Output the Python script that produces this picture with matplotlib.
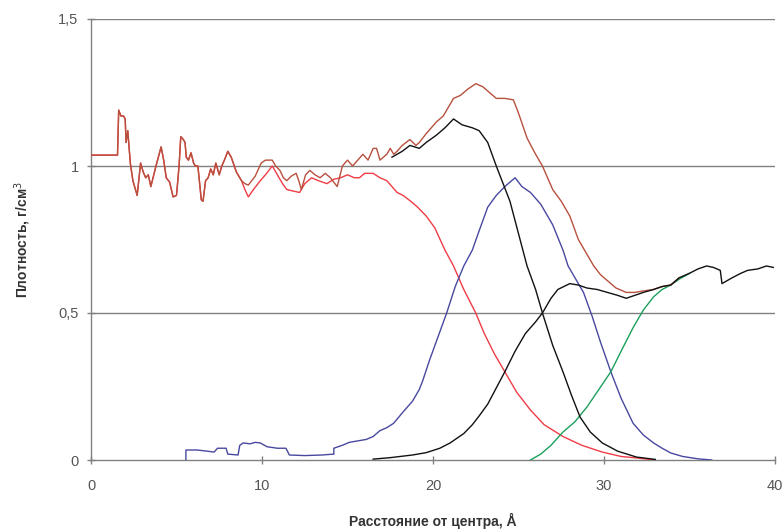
import matplotlib
matplotlib.use("Agg")
import matplotlib.pyplot as plt

plt.rcParams['font.family'] = ['Liberation Sans', 'DejaVu Sans']

# common early part of total (brown) and red curves
common_x = [0, 1.55, 1.62, 1.75, 1.9, 2.0, 2.05, 2.15, 2.3, 2.45, 2.7, 2.9, 3.05, 3.2, 3.35, 3.5, 3.8,
            4.1, 4.25, 4.4, 4.6, 4.8, 5.0, 5.15, 5.25, 5.4, 5.5, 5.57, 5.7, 5.85, 6.0, 6.1, 6.25,
            6.45, 6.55, 6.7, 6.85, 7.0, 7.15, 7.3, 7.5, 7.65, 7.8, 8.0, 8.2, 8.5, 8.8]
common_y = [1.037, 1.037, 1.19, 1.17, 1.17, 1.16, 1.08, 1.12, 1.01, 0.95, 0.90, 1.01, 0.98, 0.96, 0.97, 0.93, 1.0,
            1.065, 1.02, 0.96, 0.945, 0.895, 0.90, 1.0, 1.10, 1.09, 1.08, 1.03, 1.02, 1.045, 1.01, 1.0, 1.0,
            0.885, 0.88, 0.95, 0.96, 0.99, 0.97, 1.01, 0.97, 1.0, 1.02, 1.05, 1.03, 0.98, 0.95]

total_x = common_x + [9.0, 9.2, 9.4, 9.6, 9.95, 10.2, 10.6, 10.8, 11.05, 11.25, 11.45, 11.7, 12.0, 12.15,
                      12.3, 12.55, 12.8, 13.1, 13.4, 13.7, 14.0, 14.2, 14.4, 14.7, 15.0, 15.3, 15.6, 15.9,
                      16.2, 16.5, 16.7, 16.9, 17.1, 17.3, 17.5, 17.7, 17.9, 18.2, 18.65, 19.0, 19.2, 19.6,
                      20.2, 20.6, 21.0, 21.2, 21.6, 22.0, 22.5, 22.9, 23.3, 23.7, 24.2, 24.7, 25.0, 25.5,
                      26.0, 26.4, 27.0, 27.5, 28.0, 28.5, 29.0, 29.4, 29.8, 30.2, 30.7, 31.3, 31.8, 32.3,
                      32.9, 33.4, 33.9, 34.4]
total_y = common_y + [0.94, 0.935, 0.95, 0.965, 1.01, 1.02, 1.02, 1.0, 0.985, 0.96, 0.95, 0.965, 0.975, 0.95,
                      0.92, 0.97, 0.985, 0.97, 0.96, 0.975, 0.96, 0.945, 0.93, 1.0, 1.02, 1.0, 1.02, 1.04,
                      1.02, 1.06, 1.06, 1.02, 1.03, 1.04, 1.06, 1.04, 1.05, 1.07, 1.09, 1.07, 1.08, 1.11,
                      1.15, 1.17, 1.21, 1.23, 1.24, 1.26, 1.28, 1.27, 1.25, 1.23, 1.23, 1.225, 1.18, 1.095,
                      1.04, 1.0, 0.92, 0.88, 0.83, 0.75, 0.70, 0.66, 0.63, 0.61, 0.585, 0.57, 0.57, 0.575,
                      0.58, 0.59, 0.595, 0.62]

red_x = common_x + [9.0, 9.2, 9.5, 9.9, 10.2, 10.6, 10.9, 11.2, 11.45, 11.8, 12.2, 12.5, 12.9, 13.3, 13.8,
                    14.2, 14.6, 15.0, 15.4, 15.7, 16.0, 16.5, 16.9, 17.3, 17.6, 17.9, 18.25, 18.7, 19.1,
                    19.6, 20.1, 20.7, 21.2, 21.8, 22.5, 23.0, 23.6, 24.2, 24.9, 25.7, 26.5, 27.6, 28.7,
                    29.9, 31.0, 31.9, 33.0]
red_y = common_y + [0.92, 0.895, 0.92, 0.95, 0.97, 1.0, 0.97, 0.94, 0.92, 0.915, 0.91, 0.94, 0.96, 0.95, 0.94,
                    0.955, 0.96, 0.97, 0.96, 0.96, 0.975, 0.975, 0.96, 0.95, 0.93, 0.91, 0.90, 0.88, 0.86,
                    0.83, 0.79, 0.714, 0.66, 0.58, 0.50, 0.43, 0.36, 0.30, 0.23, 0.17, 0.12, 0.08, 0.05,
                    0.027, 0.012, 0.007, 0.0]

black1_x = [17.6, 17.9, 18.2, 18.65, 19.2, 19.6, 20.2, 20.7, 21.2, 21.7, 22.3, 22.7, 23.2, 23.7, 24.1, 24.5,
            25.0, 25.5, 26.0, 26.4, 27.0, 27.6, 28.1, 28.6, 29.2, 29.9, 30.8, 31.9, 33.0]
black1_y = [1.03, 1.04, 1.05, 1.07, 1.06, 1.08, 1.105, 1.13, 1.16, 1.14, 1.13, 1.12, 1.08, 1.0, 0.94, 0.88,
            0.77, 0.66, 0.58, 0.50, 0.39, 0.30, 0.22, 0.146, 0.095, 0.058, 0.03, 0.01, 0.002]

black2_x = [16.5, 17.5, 18.8, 19.6, 20.4, 21.0, 21.8, 22.3, 22.7, 23.2, 23.7, 24.2, 24.8, 25.4, 26.0, 26.4,
            26.9, 27.3, 28.0, 28.5, 29.0, 29.6, 30.2, 30.8, 31.3, 31.8, 32.3, 32.9, 33.4, 33.9, 34.4, 35.0,
            35.5, 36.0, 36.4, 36.8, 36.9, 37.5, 38.0, 38.4, 39.0, 39.5, 39.9]
black2_y = [0.003, 0.008, 0.017, 0.025, 0.04, 0.058, 0.09, 0.12, 0.15, 0.19, 0.245, 0.30, 0.37, 0.43, 0.47, 0.50,
            0.55, 0.58, 0.60, 0.595, 0.585, 0.58, 0.57, 0.56, 0.55, 0.56, 0.57, 0.58, 0.59, 0.595, 0.62, 0.635,
            0.65, 0.66, 0.655, 0.645, 0.60, 0.62, 0.635, 0.645, 0.65, 0.66, 0.655]

blue_x = [5.55, 5.55, 6.2, 6.8, 7.2, 7.4, 7.9, 8.0, 8.6, 8.7, 8.9, 9.3, 9.6, 9.9, 10.3, 10.9, 11.4, 11.6,
          12.5, 13.5, 14.2, 14.2, 14.7, 15.1, 15.6, 16.1, 16.5, 16.9, 17.3, 17.7, 18.2, 18.8, 19.2, 19.4,
          19.8, 20.3, 20.8, 21.3, 21.8, 22.3, 22.7, 23.2, 23.7, 24.2, 24.8, 25.2, 25.7, 26.3, 27.0, 27.6,
          27.9, 28.3, 28.8, 29.3, 29.8, 30.4, 31.0, 31.7, 32.3, 32.9, 33.4, 33.9, 34.6, 35.5, 36.3]
blue_y = [0.0, 0.034, 0.034, 0.03, 0.027, 0.04, 0.04, 0.02, 0.017, 0.05, 0.058, 0.055, 0.06, 0.058, 0.045, 0.04,
          0.04, 0.017, 0.015, 0.017, 0.02, 0.04, 0.05, 0.06, 0.065, 0.07, 0.08, 0.10, 0.11, 0.125, 0.16, 0.20,
          0.24, 0.27, 0.34, 0.42, 0.50, 0.59, 0.66, 0.714, 0.78, 0.86, 0.90, 0.93, 0.96, 0.93, 0.91, 0.87,
          0.80, 0.714, 0.66, 0.62, 0.57, 0.49, 0.40, 0.30, 0.21, 0.125, 0.085, 0.058, 0.04, 0.024, 0.012,
          0.004, 0.0]

green_x = [25.7, 26.3, 26.9, 27.6, 28.3, 29.0, 29.7, 30.4, 31.0, 31.7, 32.3, 32.9, 33.4, 33.9, 34.4, 35.0]
green_y = [0.0, 0.02, 0.05, 0.095, 0.13, 0.18, 0.24, 0.30, 0.37, 0.45, 0.51, 0.555, 0.58, 0.595, 0.615, 0.635]

x_ticks = [0, 10, 20, 30, 40]
y_ticks = [0, 0.5, 1, 1.5]
y_tick_labels = ["0", "0,5", "1", "1,5"]

fig = plt.figure(figsize=(7.83, 5.29), dpi=100)
ax = fig.add_axes([91 / 783, 69 / 529, 684 / 783, 441 / 529])

for y in y_ticks[1:]:
    ax.axhline(y, color='#808080', lw=1.0, zorder=1)

lw = 1.0
ax.plot(red_x, red_y, color='#f03c46', lw=lw, zorder=3)
ax.plot(total_x, total_y, color='#b8503e', lw=lw, zorder=4)
ax.plot(blue_x, blue_y, color='#4848a0', lw=lw, zorder=3)
ax.plot(green_x, green_y, color='#1aa05a', lw=lw, zorder=3)
ax.plot(black1_x, black1_y, color='#111111', lw=lw, zorder=5)
ax.plot(black2_x, black2_y, color='#111111', lw=lw, zorder=5)

ax.set_xlim(0, 40)
ax.set_ylim(0, 1.5)
ax.set_xticks(x_ticks)
ax.set_xticklabels([str(t) for t in x_ticks])
ax.set_yticks(y_ticks)
ax.set_yticklabels(y_tick_labels)

for s in ['top', 'right']:
    ax.spines[s].set_visible(False)
for s in ['left', 'bottom']:
    ax.spines[s].set_color('#808080')
    ax.spines[s].set_linewidth(1.0)

ax.tick_params(axis='both', direction='inout', length=6, width=1.0, color='#808080',
               labelsize=10.5, labelcolor='#555555')
ax.tick_params(axis='x', pad=11)
ax.tick_params(axis='y', pad=6)

ax.set_xlabel("Расстояние от центра, Å", fontsize=10, fontweight='bold', color='#333333', labelpad=14)
ax.set_ylabel("Плотность, г/см$^3$", fontsize=10, fontweight='bold', color='#333333', labelpad=18)

fig.savefig("out.png", dpi=100)
